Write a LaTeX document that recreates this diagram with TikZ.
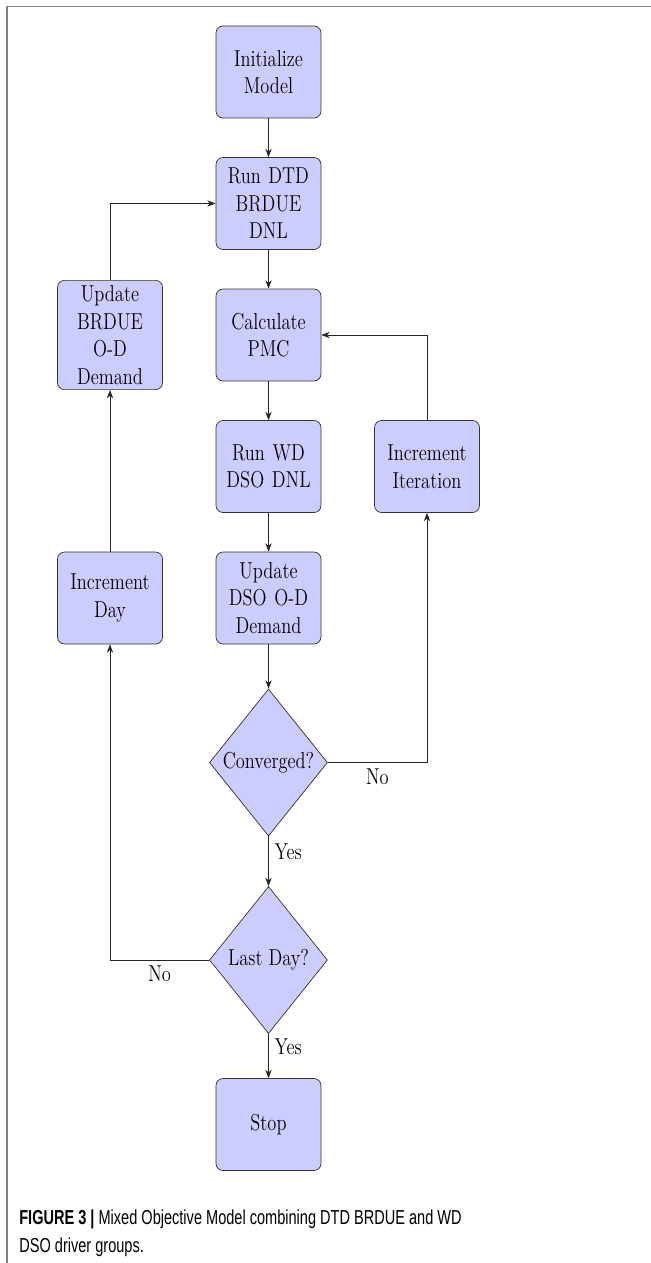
\documentclass[tikz,border=0pt]{standalone}
\usepackage{fontspec}
\newfontfamily\boxfont[FakeStretch=0.8]{Latin Modern Roman}
\newfontfamily\capfont[FakeStretch=0.72]{Liberation Sans}
\usetikzlibrary{arrows.meta, positioning, shapes.geometric}

\begin{document}
\begin{tikzpicture}[>=Stealth, node distance=2.63cm and 3.17cm, on grid,
    font=\boxfont\fontsize{13.1}{15.65}\selectfont,
    stepbox/.style={draw=black!80, fill=blue!20, rounded corners=4pt, text width=1.88cm,
        align=center, minimum width=2.1cm, minimum height=1.84cm, inner sep=3pt},
    decision/.style={diamond, draw=black!80, fill=blue!20, inner sep=0pt, shape aspect=0.8,
        minimum width=2.36cm, minimum height=2.94cm},
    flow/.style={->, draw=black!85}]
    \useasboundingbox (0,0) rectangle (13.02,-25.26);
    % 外框（只露出上边和左边）
    \coordinate (tl) at (0.14,-0.13);
    \draw[gray, line width=0.6pt] (13.02,-0.13) -- (tl) -- (0.14,-25.26);

    % 主列节点：从初始化到停止
    \node[stepbox] (init) at (5.37,-1.44) {Initialize\\Model};
    \node[stepbox] (dtd) [below=of init] {Run DTD\\BRDUE\\DNL};
    \node[stepbox] (pmc) [below=of dtd] {Calculate\\PMC};
    \node[stepbox] (wd) [below=of pmc] {Run WD\\DSO DNL};
    \node[stepbox] (dso) [below=of wd] {Update\\DSO O-D\\Demand};
    \node[decision] (conv) [below=3.29cm of dso] {Converged?};
    \node[decision] (last) [below=3.95cm of conv] {Last Day?};
    \node[stepbox] (stop) [below=3.29cm of last] {Stop};

    % 两侧的回路节点
    \node[stepbox] (brdue) [left=of pmc] {Update\\BRDUE\\O-D\\Demand};
    \node[stepbox] (day) [left=of dso] {Increment\\Day};
    \node[stepbox] (iter) [right=of wd] {Increment\\Iteration};

    % 主流程箭头
    \draw[flow] (init) -- (dtd);
    \draw[flow] (dtd) -- (pmc);
    \draw[flow] (pmc) -- (wd);
    \draw[flow] (wd) -- (dso);
    \draw[flow] (dso) -- (conv);
    \draw[flow] (conv) -- node[right, pos=0.3] {Yes} (last);
    \draw[flow] (last) -- node[right, pos=0.3] {Yes} (stop);

    % 迭代回路（右侧）
    \draw[flow] (conv.east) -| node[below, pos=0.25] {No} (iter.south);
    \draw[flow] (iter.north) |- (pmc.east);

    % 日回路（左侧）
    \draw[flow] (last.west) -| node[below, pos=0.25] {No} (day.south);
    \draw[flow] (day) -- (brdue);
    \draw[flow] (brdue.north) |- (dtd.west);

    % 图注
    \node[anchor=base west, align=left, inner sep=0pt,
        font=\capfont\fontsize{11.5}{15.9}\selectfont] (caption) at (0.38,-25.04)
        {\textbf{FIGURE 3 |} Mixed Objective Model combining DTD BRDUE and WD\\DSO driver groups.};
\end{tikzpicture}
\end{document}
